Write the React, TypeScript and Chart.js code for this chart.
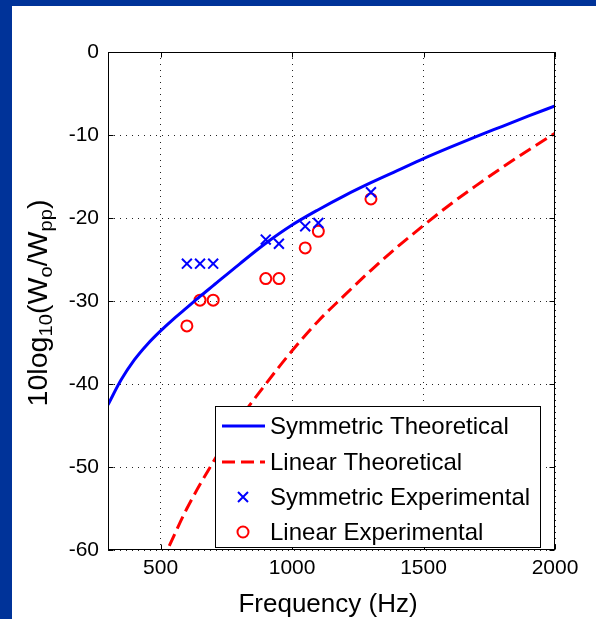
import React, { useEffect, useRef } from 'react';
import { Chart, registerables } from 'chart.js';

Chart.register(...registerables);

const FONT = "'Liberation Sans', Arial, Helvetica, sans-serif";

// Symmetric theoretical curve (Hz, dB)
const symTheoFreq = [300, 350, 400, 450, 500, 550, 600, 650, 700, 800, 900, 1000, 1100, 1200, 1300, 1400, 1500, 1600, 1700, 1800, 1900, 2000];
const symTheoLevel = [-42.5, -39.5, -37.1, -35.2, -33.6, -32.15, -30.8, -29.45, -28.15, -25.55, -23.05, -20.85, -19.0, -17.3, -15.75, -14.3, -12.85, -11.5, -10.2, -8.95, -7.7, -6.5];

// Linear theoretical curve (Hz, dB)
const linTheoFreq = [533, 600, 700, 800, 900, 1000, 1100, 1200, 1300, 1400, 1500, 1600, 1700, 1800, 1900, 2000];
const linTheoLevel = [-59.5, -55.0, -49.4, -44.3, -40.0, -36.0, -32.4, -29.3, -26.3, -23.5, -20.9, -18.4, -16.1, -13.9, -11.8, -9.8];

// Experimental points
const expFreq = [600, 650, 700, 900, 950, 1050, 1100, 1300];
const symExpLevel = [-25.5, -25.5, -25.5, -22.6, -23.1, -21.0, -20.6, -16.9];
const linExpLevel = [-33.0, -29.9, -29.9, -27.3, -27.3, -23.6, -21.6, -17.7];

const xTickValues = [500, 1000, 1500, 2000];
const yTickValues = [-60, -50, -40, -30, -20, -10, 0];

const legendLabels = ['Symmetric Theoretical', 'Linear Theoretical', 'Symmetric Experimental', 'Linear Experimental'];
const xTitle = 'Frequency (Hz)';
const yTitleParts: { t: string; sub: boolean }[] = [
  { t: '10log', sub: false },
  { t: '10', sub: true },
  { t: '(W', sub: false },
  { t: 'o', sub: true },
  { t: '/W', sub: false },
  { t: 'pp', sub: true },
  { t: ')', sub: false },
];

const BLUE = '#0000ff';
const RED = '#ff0000';

const toXY = (xs: number[], ys: number[]) => xs.map((x, i) => ({ x, y: ys[i] }));

function drawCross(ctx: CanvasRenderingContext2D, cx: number, cy: number, h: number) {
  ctx.beginPath();
  ctx.moveTo(cx - h, cy - h);
  ctx.lineTo(cx + h, cy + h);
  ctx.moveTo(cx - h, cy + h);
  ctx.lineTo(cx + h, cy - h);
  ctx.stroke();
}

const framePlugin = {
  id: 'matlabFrame',
  afterDatasetsDraw(chart: any) {
    const { ctx, chartArea: a, scales } = chart;
    const xs = scales.x;
    const ys = scales.y;
    const L = Math.round(a.left) + 0.5;
    const R = Math.round(a.right) - 0.5;
    const T = Math.round(a.top) + 0.5;
    const B = Math.round(a.bottom) - 0.5;
    ctx.save();
    ctx.setLineDash([]);
    ctx.strokeStyle = '#000';
    ctx.lineWidth = 1;
    ctx.strokeRect(L, T, R - L, B - T);
    ctx.beginPath();
    const tl = 5;
    xTickValues.forEach((v) => {
      const px = Math.round(xs.getPixelForValue(v)) + 0.5;
      ctx.moveTo(px, B);
      ctx.lineTo(px, B - tl);
      ctx.moveTo(px, T);
      ctx.lineTo(px, T + tl);
    });
    yTickValues.forEach((v) => {
      const py = Math.round(ys.getPixelForValue(v)) + 0.5;
      ctx.moveTo(L, py);
      ctx.lineTo(L + tl, py);
      ctx.moveTo(R, py);
      ctx.lineTo(R - tl, py);
    });
    ctx.stroke();

    // Legend box
    const lx = 215.5, ly = 406.5, lw = 325, lh = 141;
    ctx.fillStyle = '#fff';
    ctx.fillRect(lx, ly, lw, lh);
    ctx.strokeStyle = '#000';
    ctx.strokeRect(lx, ly, lw, lh);
    const rows = [426, 462, 497, 532];
    ctx.lineWidth = 3;
    ctx.strokeStyle = BLUE;
    ctx.beginPath();
    ctx.moveTo(222, rows[0]);
    ctx.lineTo(265, rows[0]);
    ctx.stroke();
    ctx.strokeStyle = RED;
    ctx.setLineDash([13, 6]);
    ctx.beginPath();
    ctx.moveTo(222, rows[1]);
    ctx.lineTo(265, rows[1]);
    ctx.stroke();
    ctx.setLineDash([]);
    ctx.lineWidth = 2;
    ctx.strokeStyle = BLUE;
    drawCross(ctx, 243, rows[2], 5);
    ctx.strokeStyle = RED;
    ctx.beginPath();
    ctx.arc(243, rows[3], 5.5, 0, Math.PI * 2);
    ctx.stroke();

    ctx.fillStyle = '#000';
    ctx.font = `24px ${FONT}`;
    ctx.textAlign = 'left';
    ctx.textBaseline = 'middle';
    legendLabels.forEach((t, i) => ctx.fillText(t, 270, rows[i] + 1));

    // X title
    ctx.font = `26px ${FONT}`;
    ctx.textAlign = 'center';
    ctx.fillText(xTitle, 328, 605);

    // Y title with subscripts, rotated
    ctx.save();
    ctx.translate(47, 303);
    ctx.rotate(-Math.PI / 2);
    const mainFont = `27px ${FONT}`;
    const subFont = `19px ${FONT}`;
    let total = 0;
    const widths = yTitleParts.map((p) => {
      ctx.font = p.sub ? subFont : mainFont;
      const w = ctx.measureText(p.t).width;
      total += w;
      return w;
    });
    const scaleX = 207 / total;
    ctx.scale(scaleX, 1);
    ctx.textAlign = 'left';
    ctx.textBaseline = 'alphabetic';
    let xx = -total / 2;
    yTitleParts.forEach((p, i) => {
      ctx.font = p.sub ? subFont : mainFont;
      ctx.fillText(p.t, xx, p.sub ? 5 : 0);
      xx += widths[i];
    });
    ctx.restore();

    ctx.restore();
  },
};

export default function App() {
  const ref = useRef<HTMLCanvasElement>(null);

  useEffect(() => {
    if (!ref.current) return;
    const chart = new Chart(ref.current, {
      type: 'scatter',
      data: {
        datasets: [
          {
            label: legendLabels[0],
            data: toXY(symTheoFreq, symTheoLevel),
            showLine: true,
            borderColor: BLUE,
            borderWidth: 3,
            pointRadius: 0,
            cubicInterpolationMode: 'monotone',
          },
          {
            label: legendLabels[1],
            data: toXY(linTheoFreq, linTheoLevel),
            showLine: true,
            borderColor: RED,
            borderWidth: 3,
            borderDash: [13, 6],
            pointRadius: 0,
            cubicInterpolationMode: 'monotone',
          },
          {
            label: legendLabels[2],
            data: toXY(expFreq, symExpLevel),
            showLine: false,
            pointStyle: 'crossRot',
            pointRadius: 7,
            borderColor: BLUE,
            backgroundColor: BLUE,
            borderWidth: 2,
          },
          {
            label: legendLabels[3],
            data: toXY(expFreq, linExpLevel),
            showLine: false,
            pointStyle: 'circle',
            pointRadius: 5.5,
            borderColor: RED,
            backgroundColor: 'rgba(0,0,0,0)',
            borderWidth: 2,
          },
        ],
      } as any,
      options: {
        responsive: false,
        animation: false,
        devicePixelRatio: 1,
        layout: { padding: { left: 0, top: 52, right: 41, bottom: 0 } },
        plugins: { legend: { display: false }, tooltip: { enabled: false } },
        scales: {
          x: {
            type: 'linear',
            min: 300,
            max: 2000,
            afterBuildTicks: (s: any) => {
              s.ticks = xTickValues.map((v) => ({ value: v }));
            },
            afterFit: (s: any) => {
              s.height = 69;
            },
            ticks: {
              callback: (v: any) => String(v),
              font: { family: FONT, size: 21 },
              color: '#000',
              padding: 6,
              maxRotation: 0,
              autoSkip: false,
            },
            grid: { color: '#222', lineWidth: 1, drawTicks: false },
            border: { display: false, dash: [1, 5] },
          },
          y: {
            type: 'linear',
            min: -60,
            max: 0,
            afterBuildTicks: (s: any) => {
              s.ticks = yTickValues.map((v) => ({ value: v }));
            },
            afterFit: (s: any) => {
              s.width = 108;
            },
            ticks: {
              callback: (v: any) => String(v),
              font: { family: FONT, size: 21 },
              color: '#000',
              padding: 9,
              autoSkip: false,
            },
            grid: { color: '#222', lineWidth: 1, drawTicks: false },
            border: { display: false, dash: [1, 5] },
          },
        },
      } as any,
      plugins: [framePlugin],
    });
    return () => chart.destroy();
  }, []);

  return (
    <div
      style={{
        position: 'fixed',
        left: 0,
        top: 0,
        width: 596,
        height: 619,
        background: '#003399',
        overflow: 'hidden',
      }}
    >
      <div style={{ position: 'absolute', left: 12, top: 6, right: 0, bottom: 0, background: '#fff' }} />
      <canvas
        ref={ref}
        width={596}
        height={619}
        style={{ position: 'absolute', left: 0, top: 0, width: 596, height: 619 }}
      />
    </div>
  );
}
